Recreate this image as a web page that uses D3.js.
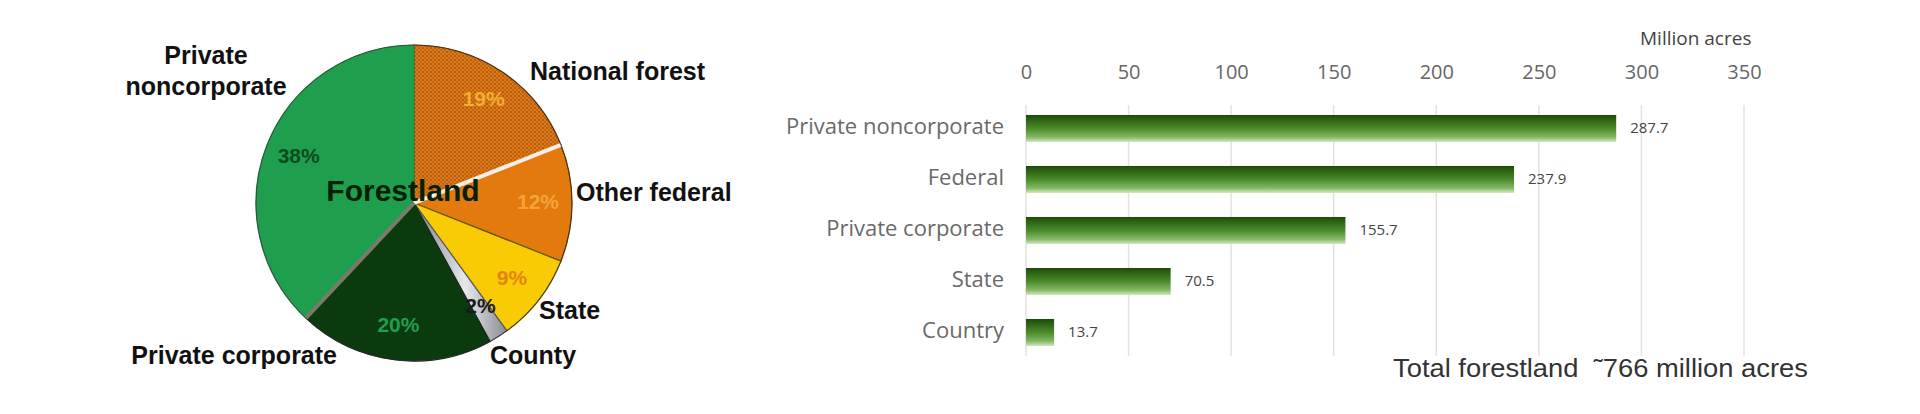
<!DOCTYPE html>
<html>
<head>
<meta charset="utf-8">
<script src="https://cdn.jsdelivr.net/npm/d3@7"></script>
<style>
  body { margin: 0; background: #fff; }
  svg { display: block; }
</style>
</head>
<body>
<svg id="chart"></svg>
<script>
// pie: forestland ownership, clockwise from 12 o'clock
const pieNames = ["National forest", "Other federal", "State", "County", "Private corporate", "Private noncorporate"];
const piePercents = [19, 12, 9, 2, 20, 38];

// bars: million acres
const barCategories = ["Private noncorporate", "Federal", "Private corporate", "State", "Country"];
const barValues = [287.7, 237.9, 155.7, 70.5, 13.7];
const xTicks = [0, 50, 100, 150, 200, 250, 300, 350];

const totalNote = "Total forestland  \u02DC766 million acres";

document.addEventListener('DOMContentLoaded', function () {
    var W = 1920, H = 414;
    const svg = d3.select('#chart').attr("width", W).attr("height", H);
    const defs = svg.append("defs");

    // crosshatch for national forest
    const pat = defs.append("pattern")
        .attr("id", "hatch")
        .attr("width", 4).attr("height", 4)
        .attr("patternUnits", "userSpaceOnUse");
    pat.append("rect").attr("width", 4).attr("height", 4).attr("fill", "#dc7a1c");
    pat.append("rect").attr("width", 2).attr("height", 2).attr("fill", "#b85c0c");
    pat.append("rect").attr("x", 2).attr("y", 2).attr("width", 2).attr("height", 2).attr("fill", "#c4660f");

    const countyGrad = defs.append("linearGradient").attr("id", "countyGrad")
        .attr("x1", 0).attr("y1", 0).attr("x2", 1).attr("y2", 0);
    countyGrad.append("stop").attr("offset", "0%").attr("stop-color", "#7d7d85");
    countyGrad.append("stop").attr("offset", "55%").attr("stop-color", "#e8e8ee");
    countyGrad.append("stop").attr("offset", "100%").attr("stop-color", "#8a8a92");

    const barGrad = defs.append("linearGradient").attr("id", "barGrad")
        .attr("x1", 0).attr("y1", 0).attr("x2", 0).attr("y2", 1);
    [["0%", "#1c4a0a"], ["18%", "#2e6414"], ["50%", "#4b8b2b"], ["82%", "#85b865"], ["100%", "#d2e8c2"]]
        .forEach(s => barGrad.append("stop").attr("offset", s[0]).attr("stop-color", s[1]));

    // ---------- Pie ----------
    const cx = 414, cy = 203, r = 158;
    const sliceFill = {
        "National forest": "url(#hatch)",
        "Other federal": "#e27a0d",
        "State": "#f9cb05",
        "County": "url(#countyGrad)",
        "Private corporate": "#0b3a0f",
        "Private noncorporate": "#1f9f4e"
    };
    const sliceStroke = {
        "National forest": "#6b3a08",
        "Other federal": "#6b3a08",
        "State": "#6b5a08",
        "County": "#5a5a60",
        "Private corporate": "#1a2a1a",
        "Private noncorporate": "#2e8a4a"
    };
    const pctColor = {
        "National forest": "#f0b030",
        "Other federal": "#f6a43c",
        "State": "#e4840e",
        "County": "#1a1a1a",
        "Private corporate": "#1f9f4e",
        "Private noncorporate": "#0c4a1c"
    };
    // outside label layout (anchor + offset from pie centre)
    const outLabel = {
        "National forest": { a: "start", lines: ["National forest"], dx: 116, dy: -132 },
        "Other federal": { a: "start", lines: ["Other federal"], dx: 162, dy: -11 },
        "State": { a: "start", lines: ["State"], dx: 125, dy: 107 },
        "County": { a: "start", lines: ["County"], dx: 76, dy: 152 },
        "Private corporate": { a: "end", lines: ["Private corporate"], dx: -77, dy: 152 },
        "Private noncorporate": { a: "middle", lines: ["Private", "noncorporate"], dx: -208, dy: -148 }
    };

    const pieData = pieNames.map((n, i) => ({ name: n, value: piePercents[i] }));
    const pie = d3.pie().sort(null).value(d => d.value);
    const arcs = pie(pieData);
    const arc = d3.arc().innerRadius(0).outerRadius(r);
    const pctArc = d3.arc().innerRadius(124).outerRadius(124);

    const pg = svg.append("g").attr("transform", `translate(${cx},${cy})`);

    pg.selectAll("path.slice")
        .data(arcs)
        .join("path")
        .attr("class", "slice")
        .attr("d", arc)
        .attr("fill", d => sliceFill[d.data.name])
        .attr("stroke", d => sliceStroke[d.data.name])
        .attr("stroke-width", 1.2)
        .attr("stroke-linejoin", "round");

    // separators: white between national forest / other federal, grey between the two private slices
    const sep = (angle, color, w) => {
        pg.append("line")
            .attr("x1", 0).attr("y1", 0)
            .attr("x2", r * Math.sin(angle)).attr("y2", -r * Math.cos(angle))
            .attr("stroke", color).attr("stroke-width", w);
    };
    sep(arcs[0].endAngle, "#f4efe6", 4);
    sep(arcs[4].endAngle, "#7a7a6a", 4);

    // outer rim
    pg.append("circle").attr("r", r).attr("fill", "none")
        .attr("stroke", "#2b2b2b").attr("stroke-width", 1).attr("opacity", 0.6);

    pg.selectAll("text.pct")
        .data(arcs)
        .join("text")
        .attr("class", "pct")
        .attr("transform", d => `translate(${pctArc.centroid(d)})`)
        .attr("text-anchor", "middle")
        .attr("dominant-baseline", "middle")
        .attr("font-family", "Liberation Sans, Arial, sans-serif")
        .attr("font-weight", "bold")
        .attr("font-size", 21)
        .attr("fill", d => pctColor[d.data.name])
        .text(d => d.data.value + "%");

    pg.append("text")
        .attr("x", -11).attr("y", -10)
        .attr("text-anchor", "middle")
        .attr("dominant-baseline", "middle")
        .attr("font-family", "Liberation Sans, Arial, sans-serif")
        .attr("font-weight", "bold")
        .attr("font-size", 30)
        .attr("fill", "#061f06")
        .text("Forestland");

    pg.selectAll("text.out")
        .data(arcs)
        .join("text")
        .attr("class", "out")
        .attr("text-anchor", d => outLabel[d.data.name].a)
        .attr("font-family", "Liberation Sans, Arial, sans-serif")
        .attr("font-weight", "bold")
        .attr("font-size", 25)
        .attr("fill", "#111")
        .each(function (d) {
            const L = outLabel[d.data.name];
            L.lines.forEach((t, i) => {
                d3.select(this).append("tspan")
                    .attr("x", L.dx)
                    .attr("y", L.dy + i * 31)
                    .attr("dy", "0.35em")
                    .text(t);
            });
        });

    // ---------- Bars ----------
    const x = d3.scaleLinear().domain([0, 350]).range([1026, 1744]);
    const y = d3.scaleBand().domain(barCategories).range([103, 358])
        .paddingInner(0.47).paddingOuter(0.235);

    const bg = svg.append("g");

    bg.selectAll("line.grid")
        .data(xTicks)
        .join("line")
        .attr("class", "grid")
        .attr("x1", d => x(d)).attr("x2", d => x(d))
        .attr("y1", 105).attr("y2", 356)
        .attr("stroke", "#e2e2e2").attr("stroke-width", 1.5);

    const axis = bg.append("g")
        .attr("transform", "translate(0,79)")
        .call(d3.axisTop(x).tickValues(xTicks).tickSize(0).tickPadding(0));
    axis.select(".domain").remove();
    axis.selectAll("text")
        .attr("font-family", "Open Sans, sans-serif")
        .attr("font-size", 20)
        .attr("fill", "#666");

    bg.append("text")
        .attr("x", 1640).attr("y", 40)
        .attr("dominant-baseline", "middle")
        .attr("font-family", "Open Sans, sans-serif")
        .attr("font-size", 19)
        .attr("fill", "#444")
        .text("Million acres");

    bg.selectAll("rect.bar")
        .data(barValues)
        .join("rect")
        .attr("class", "bar")
        .attr("x", x(0))
        .attr("y", (d, i) => y(barCategories[i]))
        .attr("width", d => x(d) - x(0))
        .attr("height", y.bandwidth())
        .attr("fill", "url(#barGrad)");

    bg.selectAll("text.cat")
        .data(barCategories)
        .join("text")
        .attr("class", "cat")
        .attr("x", x(0) - 22)
        .attr("y", d => y(d) + y.bandwidth() / 2)
        .attr("text-anchor", "end")
        .attr("dominant-baseline", "middle")
        .attr("font-family", "Open Sans, sans-serif")
        .attr("font-size", 22)
        .attr("fill", "#6a6a6a")
        .text(d => d);

    bg.selectAll("text.val")
        .data(barValues)
        .join("text")
        .attr("class", "val")
        .attr("x", d => x(d) + 14)
        .attr("y", (d, i) => y(barCategories[i]) + y.bandwidth() / 2)
        .attr("dominant-baseline", "middle")
        .attr("font-family", "Open Sans, sans-serif")
        .attr("font-size", 15)
        .attr("fill", "#444")
        .text(d => d.toFixed(1));

    bg.append("text")
        .attr("x", 1393).attr("y", 370)
        .attr("dominant-baseline", "middle")
        .attr("font-family", "Liberation Sans, Arial, sans-serif")
        .attr("font-size", 26)
        .attr("fill", "#333")
        .attr("xml:space", "preserve")
        .style("white-space", "pre")
        .attr("textLength", 415)
        .attr("lengthAdjust", "spacingAndGlyphs")
        .text(totalNote);
});
</script>
</body>
</html>
